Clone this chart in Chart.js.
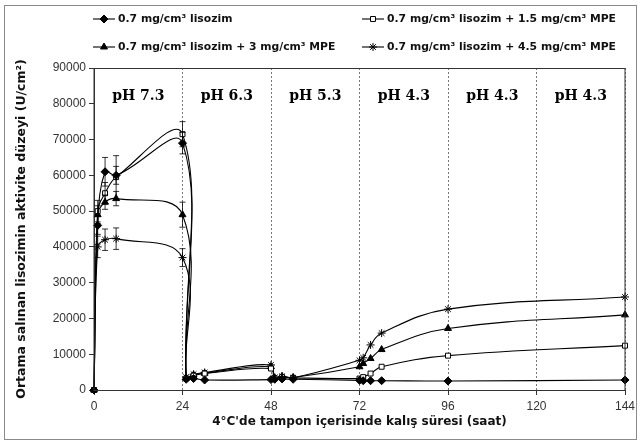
<!DOCTYPE html>
<html>
<head>
<meta charset="utf-8">
<script src="https://cdn.jsdelivr.net/npm/chart.js@4.4.1/dist/chart.umd.min.js"></script>
<style>
  html, body { margin: 0; padding: 0; background: #fff; }
  #wrap { width: 641px; height: 447px; }
</style>
</head>
<body>
<div id="wrap"><canvas id="graphCanvas" width="641" height="447"></canvas></div>
<script>
// sampling times (saat)
const hours = [0, 1, 3, 6, 24, 25, 27, 30, 48, 49, 51, 54, 72, 73, 75, 78, 96, 144];

// released lysozyme activity (U/cm2)
const lysozimOnly = [0, 46000, 61000, 60000, 69000, 3000, 3200, 2800, 2900, 3000, 3100, 3000, 2700, 2600, 2600, 2600, 2500, 2800];
const mpe15 = [0, 50000, 55000, 59500, 71500, 3200, 4000, 4600, 6000, 3300, 3600, 3400, 3200, 3600, 4600, 6500, 9600, 12400];
const mpe3 = [0, 49000, 52500, 53500, 49000, 3400, 4200, 4700, 6500, 3400, 3800, 3500, 6500, 7400, 8800, 11300, 17200, 21000];
const mpe45 = [0, 40000, 42000, 42300, 37000, 3600, 4400, 4900, 7000, 3500, 3800, 3400, 8300, 9000, 12600, 15900, 22600, 26000];

// standard deviations (only visible on the first day)
const errLysozim = [0, 2500, 4000, 2500, 3000, 0, 0, 0, 0, 0, 0, 0, 0, 0, 0, 0, 0, 0];
const errMpe15 = [0, 3000, 3000, 6000, 3500, 0, 0, 0, 0, 0, 0, 0, 0, 0, 0, 0, 0, 0];
const errMpe3 = [0, 2500, 2000, 2000, 3500, 0, 0, 0, 0, 0, 0, 0, 0, 0, 0, 0, 0, 0];
const errMpe45 = [0, 3000, 3000, 3000, 2500, 0, 0, 0, 0, 0, 0, 0, 0, 0, 0, 0, 0, 0];

const seriesLabels = [
    '0.7 mg/cm³ lisozim',
    '0.7 mg/cm³ lisozim + 1.5 mg/cm³ MPE',
    '0.7 mg/cm³ lisozim + 3 mg/cm³ MPE',
    '0.7 mg/cm³ lisozim + 4.5 mg/cm³ MPE'
];

// buffer phases
const phBounds = [0, 24, 48, 72, 96, 120, 144];
const phLabels = ['pH 7.3', 'pH 6.3', 'pH 5.3', 'pH 4.3', 'pH 4.3', 'pH 4.3'];
const phLabelLevel = 82000;

const yMax = 90000;
const yStep = 10000;
const xStep = 24;

function toPoints(values) {
    return hours.map((h, i) => ({ x: h, y: values[i] }));
}

function series(label, values, errors, style, fill) {
    return {
        label: label,
        data: toPoints(values),
        errors: errors,
        borderColor: '#000',
        borderWidth: 1.1,
        backgroundColor: fill,
        pointBackgroundColor: fill,
        pointBorderColor: '#000',
        pointBorderWidth: 1,
        pointStyle: style,
        pointRadius: style === 'rect' ? 3.5 : 4,
        tension: 0.4,
        clip: 8
    };
}

const datasets = [
    series(seriesLabels[0], lysozimOnly, errLysozim, 'rectRot', '#000'),
    series(seriesLabels[1], mpe15, errMpe15, 'rect', '#fff'),
    series(seriesLabels[2], mpe3, errMpe3, 'triangle', '#000'),
    series(seriesLabels[3], mpe45, errMpe45, 'star', '#000')
];

// frame around the figure and the plot area
const framePlugin = {
    id: 'frame',
    beforeDraw(chart) {
        const c = chart.ctx;
        c.save();
        c.fillStyle = '#fff';
        c.fillRect(0, 0, chart.width, chart.height);
        c.strokeStyle = '#8a8a8a';
        c.lineWidth = 1;
        c.strokeRect(4.5, 5.5, 632, 434);
        c.restore();
    },
    afterDraw(chart) {
        const a = chart.chartArea;
        const c = chart.ctx;
        c.save();
        c.strokeStyle = '#333';
        c.lineWidth = 1;
        c.strokeRect(a.left, a.top + 0.5, a.right - a.left, a.bottom - a.top);
        c.restore();
    }
};

// error bars through the scales
const errorBarPlugin = {
    id: 'errorBars',
    afterDatasetsDraw(chart) {
        const c = chart.ctx;
        const xs = chart.scales.x, ys = chart.scales.y;
        c.save();
        c.strokeStyle = '#000';
        c.lineWidth = 0.8;
        chart.data.datasets.forEach(ds => {
            ds.data.forEach((p, i) => {
                const e = ds.errors[i];
                if (!e) return;
                const px = xs.getPixelForValue(p.x);
                const y1 = ys.getPixelForValue(p.y + e);
                const y2 = ys.getPixelForValue(p.y - e);
                c.beginPath();
                c.moveTo(px, y1); c.lineTo(px, y2);
                c.moveTo(px - 3, y1); c.lineTo(px + 3, y1);
                c.moveTo(px - 3, y2); c.lineTo(px + 3, y2);
                c.stroke();
            });
        });
        c.restore();
    }
};

// pH phase labels
const phPlugin = {
    id: 'phLabels',
    afterDatasetsDraw(chart) {
        const c = chart.ctx;
        const xs = chart.scales.x, ys = chart.scales.y;
        c.save();
        c.fillStyle = '#000';
        c.font = 'bold 14px "DejaVu Serif", serif';
        c.textAlign = 'center';
        c.textBaseline = 'middle';
        phLabels.forEach((t, i) => {
            const mid = (phBounds[i] + phBounds[i + 1]) / 2;
            c.fillText(t, xs.getPixelForValue(mid), ys.getPixelForValue(phLabelLevel));
        });
        c.restore();
    }
};

// two-by-two legend like the original
const legendPlugin = {
    id: 'gridLegend',
    afterDraw(chart) {
        const c = chart.ctx;
        const cols = [93, 362];
        const rows = [19, 47];
        c.save();
        c.font = 'bold 10.8px "DejaVu Sans", sans-serif';
        c.textBaseline = 'middle';
        chart.data.datasets.forEach((ds, i) => {
            const x = cols[i % 2], y = rows[Math.floor(i / 2)];
            c.strokeStyle = '#000';
            c.lineWidth = 1.1;
            c.beginPath();
            c.moveTo(x, y); c.lineTo(x + 22, y);
            c.stroke();
            c.fillStyle = ds.pointBackgroundColor;
            c.lineWidth = 1;
            Chart.helpers.drawPoint(c, { pointStyle: ds.pointStyle, radius: ds.pointRadius, borderWidth: 1, rotation: 0 }, x + 11, y);
            c.fillStyle = '#111';
            c.fillText(ds.label, x + 25, y);
        });
        c.restore();
    }
};

const ctx = document.getElementById('graphCanvas').getContext('2d');
const chart = new Chart(ctx, {
    type: 'line',
    data: { datasets: datasets },
    options: {
        responsive: false,
        animation: false,
        layout: { padding: { left: 0, right: 16, top: 68, bottom: 0 } },
        plugins: {
            legend: { display: false },
            tooltip: { enabled: false }
        },
        scales: {
            x: {
                type: 'linear',
                min: 0,
                max: 144,
                afterFit: s => { s.height = 57; },
                ticks: {
                    stepSize: xStep,
                    color: '#333',
                    padding: 4,
                    font: { family: '"Liberation Sans", Arial, sans-serif', size: 12 }
                },
                grid: {
                    color: '#777',
                    lineWidth: 1,
                    tickLength: 5,
                    tickColor: '#333'
                },
                border: { color: '#333', dash: [2, 2] },
                title: {
                    display: true,
                    text: "4°C'de tampon içerisinde kalış süresi (saat)",
                    color: '#111',
                    font: { family: '"DejaVu Sans", sans-serif', size: 12, weight: 'bold' },
                    padding: { top: 0, bottom: 18 }
                }
            },
            y: {
                min: 0,
                max: yMax,
                afterFit: s => { s.width = 94; },
                ticks: {
                    stepSize: yStep,
                    color: '#333',
                    padding: 3,
                    font: { family: '"Liberation Sans", Arial, sans-serif', size: 12 },
                    callback: v => String(v)
                },
                grid: {
                    drawOnChartArea: false,
                    tickLength: 5,
                    tickColor: '#333'
                },
                border: { color: '#333' },
                title: {
                    display: true,
                    text: 'Ortama salınan lisozimin aktivite düzeyi (U/cm²)',
                    color: '#111',
                    font: { family: '"DejaVu Sans", sans-serif', size: 12.5, weight: 'bold' },
                    padding: { top: 14, bottom: 0 }
                }
            }
        }
    },
    plugins: [framePlugin, errorBarPlugin, phPlugin, legendPlugin]
});
</script>
</body>
</html>
